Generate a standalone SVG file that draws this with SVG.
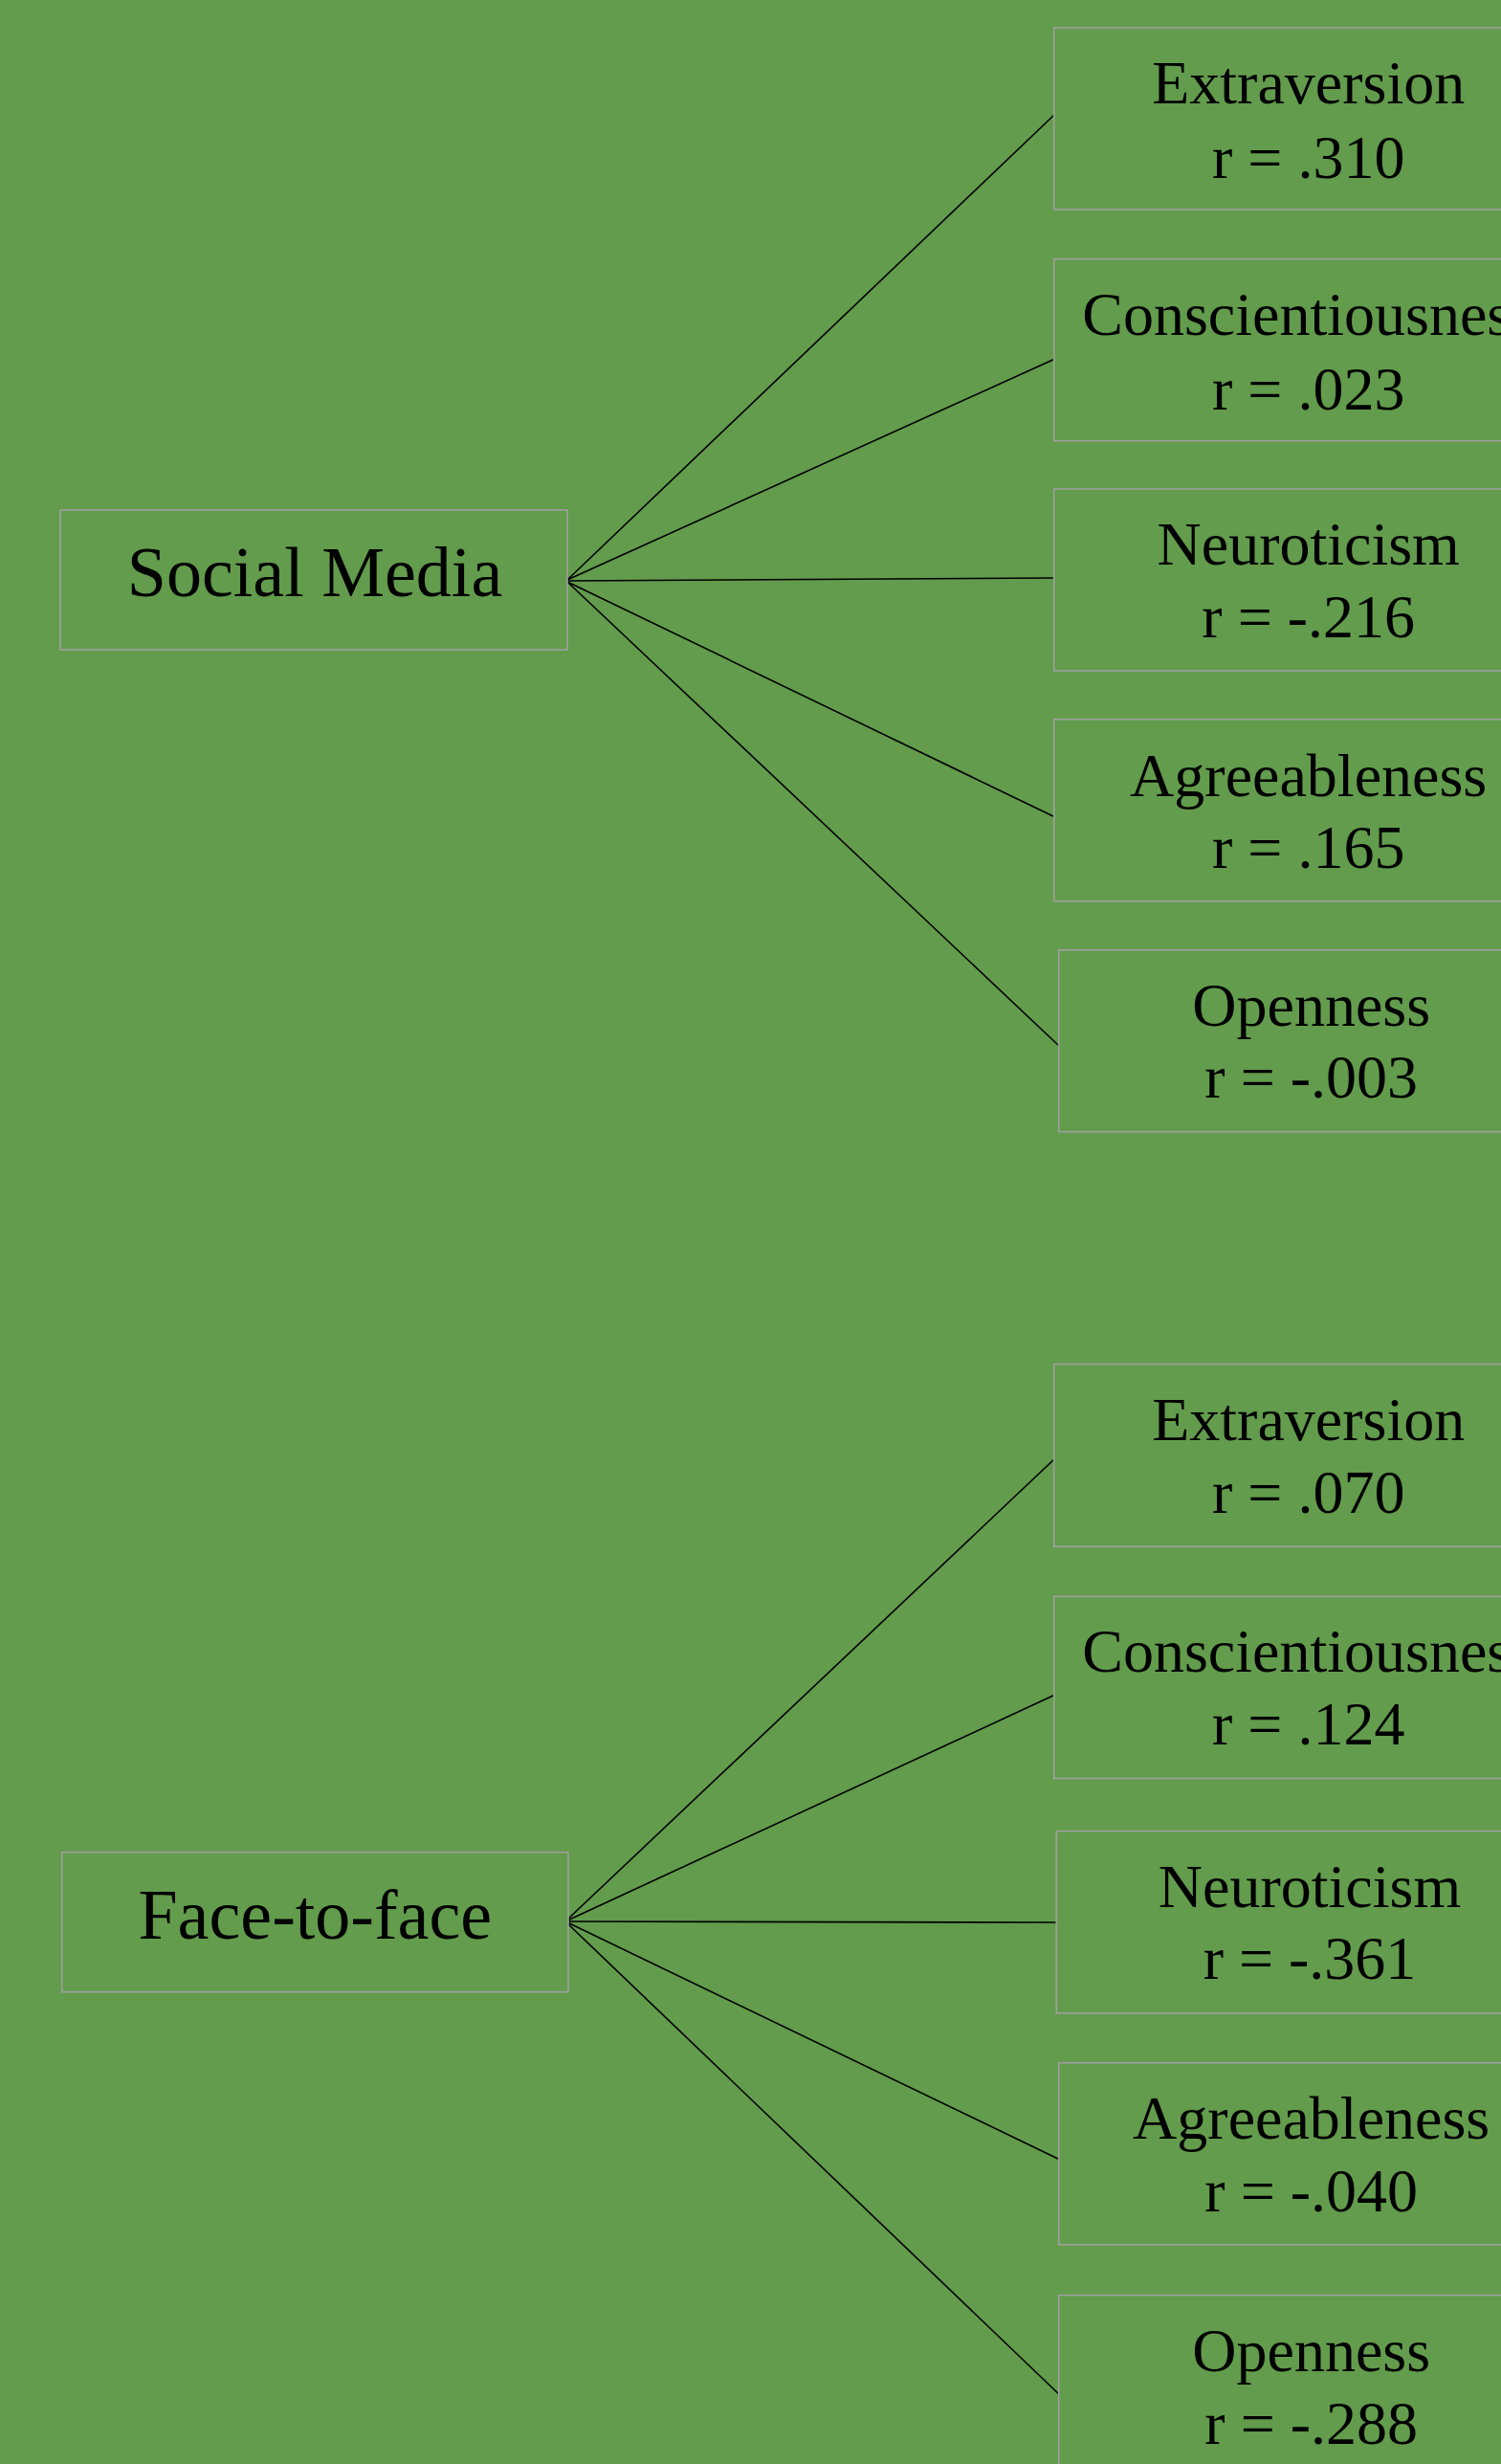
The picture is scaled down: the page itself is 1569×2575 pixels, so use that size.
<svg xmlns="http://www.w3.org/2000/svg" width="1569" height="2575" viewBox="0 0 1569 2575">
<style>
.box{fill:#629c4c;stroke:#a0a0a0;stroke-width:1.6}
.src{font-family:"Liberation Serif","Times New Roman",serif;font-size:74px;fill:#000;text-anchor:middle}
.lbl{font-family:"Liberation Serif","Times New Roman",serif;font-size:64px;fill:#000;text-anchor:middle}
.con line{stroke:#000;stroke-width:1.6}
</style>
<rect x="0" y="0" width="1569" height="2575" fill="#629c4c"/>
<g id="connectors" class="con">
<line x1="593" y1="606" x2="1102" y2="120"/>
<line x1="593" y1="606" x2="1105" y2="374"/>
<line x1="593" y1="607" x2="1102" y2="604"/>
<line x1="593" y1="608" x2="1103" y2="854"/>
<line x1="593" y1="608" x2="1107" y2="1093"/>
<line x1="591" y1="2008" x2="1103" y2="1524"/>
<line x1="591" y1="2008" x2="1103" y2="1771"/>
<line x1="591" y1="2008" x2="1104" y2="2009"/>
<line x1="591" y1="2008" x2="1110" y2="2258"/>
<line x1="591" y1="2008" x2="1110" y2="2505"/>
</g>
<g id="social-media">
<rect class="box" x="63" y="533" width="530" height="146"/>
<text class="src" x="329" y="623">Social Media</text>
</g>
<g id="sm-extraversion">
<rect class="box" x="1101.7" y="29" width="532" height="190"/>
<text class="lbl" x="1367.7" y="108">Extraversion</text>
<text class="lbl" x="1367.7" y="186">r = .310</text>
</g>
<g id="sm-conscientiousness">
<rect class="box" x="1101.7" y="270.7" width="532" height="190"/>
<text class="lbl" x="1367.7" y="349.7">Conscientiousness</text>
<text class="lbl" x="1367.7" y="427.7">r = .023</text>
</g>
<g id="sm-neuroticism">
<rect class="box" x="1101.7" y="511" width="532" height="190"/>
<text class="lbl" x="1367.7" y="590">Neuroticism</text>
<text class="lbl" x="1367.7" y="666">r = -.216</text>
</g>
<g id="sm-agreeableness">
<rect class="box" x="1101.7" y="751.7" width="532" height="190"/>
<text class="lbl" x="1367.7" y="831.7">Agreeableness</text>
<text class="lbl" x="1367.7" y="906.7">r = .165</text>
</g>
<g id="sm-openness">
<rect class="box" x="1106.7" y="992.7" width="532" height="190"/>
<text class="lbl" x="1370.7" y="1071.7">Openness</text>
<text class="lbl" x="1370.7" y="1146.7">r = -.003</text>
</g>
<g id="face-to-face">
<rect class="box" x="64.7" y="1935.7" width="529.3" height="146"/>
<text class="src" x="329.3" y="2026">Face-to-face</text>
</g>
<g id="ff-extraversion">
<rect class="box" x="1101.7" y="1425.6" width="532" height="190.6"/>
<text class="lbl" x="1367.7" y="1504.6">Extraversion</text>
<text class="lbl" x="1367.7" y="1580.6">r = .070</text>
</g>
<g id="ff-conscientiousness">
<rect class="box" x="1101.7" y="1668.3" width="532" height="190.2"/>
<text class="lbl" x="1367.7" y="1747.3">Conscientiousness</text>
<text class="lbl" x="1367.7" y="1823.3">r = .124</text>
</g>
<g id="ff-neuroticism">
<rect class="box" x="1104.3" y="1913.6" width="532" height="190.2"/>
<text class="lbl" x="1369" y="1992.6">Neuroticism</text>
<text class="lbl" x="1369" y="2068">r = -.361</text>
</g>
<g id="ff-agreeableness">
<rect class="box" x="1106.7" y="2155.8" width="532" height="190"/>
<text class="lbl" x="1370.7" y="2234.7">Agreeableness</text>
<text class="lbl" x="1370.7" y="2311">r = -.040</text>
</g>
<g id="ff-openness">
<rect class="box" x="1106.7" y="2398.6" width="532" height="190"/>
<text class="lbl" x="1370.7" y="2477.6">Openness</text>
<text class="lbl" x="1370.7" y="2553.6">r = -.288</text>
</g>
</svg>
